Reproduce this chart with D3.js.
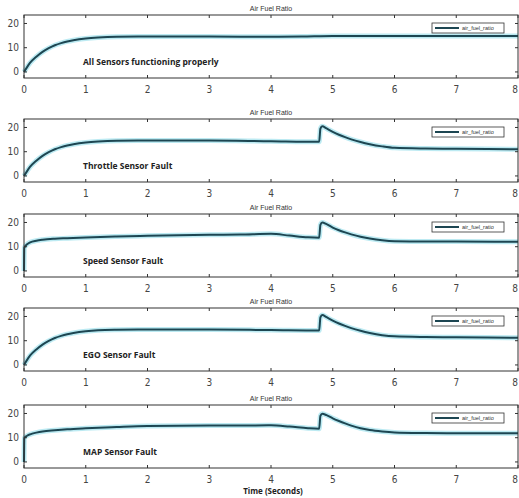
<!DOCTYPE html>
<html>
<head>
<meta charset="utf-8">
<script src="https://cdn.jsdelivr.net/npm/d3@7"></script>
<style>
  body { margin: 0; background: #fff; }
  svg { display: block; }
  .tick-label { font-family: "DejaVu Sans Condensed", "Liberation Sans Narrow", "Liberation Sans", sans-serif; font-size: 10px; fill: #444; }
  .title { font-family: "Liberation Sans", Arial, sans-serif; font-size: 7px; fill: #333; }
  .note { font-family: "Open Sans", "Liberation Sans", sans-serif; font-size: 8.5px; font-weight: 700; fill: #222; }
  .legend-text { font-family: "Liberation Sans", Arial, sans-serif; font-size: 5.5px; fill: #333; }
  .xlabel { font-family: "Open Sans", "Liberation Sans", sans-serif; font-size: 8px; font-weight: 700; fill: #222; }
</style>
</head>
<body>
<div id="chart"></div>
<script>
// Data
const xTicks = [0, 1, 2, 3, 4, 5, 6, 7, 8];
const yTicks = [0, 10, 20];
const panelNotes = ['All Sensors functioning properly', 'Throttle Sensor Fault', 'Speed Sensor Fault', 'EGO Sensor Fault', 'MAP Sensor Fault'];

const tNormal = [0, 0.05, 0.1, 0.2, 0.3, 0.4, 0.5, 0.6, 0.7, 0.8, 1.0, 1.2, 1.5, 2, 3, 4, 4.5, 5, 6, 7, 8];
const afrNormal = [0, 2, 3.8, 6.3, 8.3, 9.8, 11.0, 11.9, 12.6, 13.1, 13.8, 14.2, 14.5, 14.6, 14.6, 14.5, 14.6, 14.8, 14.8, 14.8, 14.8];

const tFault = [0, 0.05, 0.1, 0.2, 0.3, 0.4, 0.5, 0.6, 0.7, 0.8, 1.0, 1.2, 1.5, 2, 3, 4, 4.78, 4.8, 4.83, 4.9, 5.0, 5.1, 5.2, 5.3, 5.45, 5.6, 5.8, 6.0, 6.5, 7, 8];
const afrThrottle = [0, 2, 3.8, 6.3, 8.3, 9.8, 11.0, 11.9, 12.6, 13.1, 13.8, 14.2, 14.5, 14.6, 14.6, 14.3, 14.1, 19.5, 20.5, 19.6, 18.2, 17.0, 16.0, 15.1, 14.0, 13.1, 12.2, 11.6, 11.3, 11.2, 11.0];
const afrEgo = [0, 2.1, 3.9, 6.4, 8.4, 9.9, 11.1, 12.0, 12.7, 13.2, 13.9, 14.3, 14.5, 14.6, 14.6, 14.4, 14.2, 19.6, 20.6, 19.7, 18.3, 17.1, 16.1, 15.2, 14.1, 13.2, 12.3, 11.8, 11.5, 11.4, 11.2];

const tStep = [0, 0.005, 0.05, 0.1, 0.2, 0.3, 0.5, 0.7, 1, 1.5, 2, 3, 3.5, 4, 4.3, 4.6, 4.78, 4.8, 4.83, 4.9, 5, 5.1, 5.2, 5.3, 5.45, 5.6, 5.8, 6, 6.5, 7, 8];
const afrSpeed = [0, 9.5, 11.0, 11.8, 12.5, 12.9, 13.3, 13.5, 13.8, 14.2, 14.5, 14.9, 15.0, 15.3, 14.6, 13.9, 13.75, 19.0, 20.0, 19.3, 17.9, 16.8, 15.9, 15.1, 14.1, 13.4, 12.7, 12.3, 12.1, 12.1, 12.0];
const afrMap = [0, 9.8, 10.8, 11.4, 12.1, 12.6, 13.1, 13.5, 13.9, 14.4, 14.8, 15.0, 15.0, 15.1, 14.6, 13.9, 13.7, 19.0, 19.9, 19.3, 18.0, 16.9, 15.9, 15.0, 13.9, 13.2, 12.6, 12.2, 11.9, 11.8, 11.8];

const series = [
    { t: tNormal, v: afrNormal },
    { t: tFault, v: afrThrottle },
    { t: tStep, v: afrSpeed },
    { t: tFault, v: afrEgo },
    { t: tStep, v: afrMap }
];

// Layout
const config = {
    width: 519,
    height: 498,
    left: 24,
    right: 518,
    panelHeight: 63,
    panelTops: [15, 119, 214, 308, 405],
    yDomain: [-2.5, 23.5],
    lineColor: '#1d4652',
    glowColor: '#8fdcea'
};

const svg = d3.select('#chart')
    .append('svg')
    .attr('width', config.width)
    .attr('height', config.height);

const xScale = d3.scaleLinear()
    .domain([0, 8])
    .range([config.left, config.right]);

series.forEach((s, i) => {
    const top = config.panelTops[i];
    const bottom = top + config.panelHeight;
    const yScale = d3.scaleLinear()
        .domain(config.yDomain)
        .range([bottom, top]);

    const g = svg.append('g');

    // Title
    g.append('text')
        .attr('class', 'title')
        .attr('x', 271)
        .attr('y', top - 4)
        .attr('text-anchor', 'middle')
        .text('Air Fuel Ratio');

    // Data line with light glow underneath
    const pts = s.t.map((t, k) => [t, s.v[k]]);
    const line = d3.line()
        .x(d => xScale(d[0]))
        .y(d => yScale(d[1]))
        .curve(d3.curveMonotoneX);

    g.append('path')
        .datum(pts)
        .attr('fill', 'none')
        .attr('stroke', config.glowColor)
        .attr('stroke-opacity', 0.6)
        .attr('stroke-width', 5)
        .attr('d', line);

    g.append('path')
        .datum(pts)
        .attr('fill', 'none')
        .attr('stroke', config.lineColor)
        .attr('stroke-width', 2)
        .attr('d', line);

    // Axes: ticks inside, on all four sides
    const ax = g.append('g').attr('stroke', '#333').attr('stroke-width', 1);
    ax.append('rect')
        .attr('x', config.left)
        .attr('y', top)
        .attr('width', config.right - config.left)
        .attr('height', config.panelHeight)
        .attr('fill', 'none');

    xTicks.forEach(t => {
        const x = xScale(t);
        ax.append('line').attr('x1', x).attr('x2', x).attr('y1', bottom).attr('y2', bottom - 3);
        ax.append('line').attr('x1', x).attr('x2', x).attr('y1', top).attr('y2', top + 3);
    });
    yTicks.forEach(v => {
        const y = yScale(v);
        ax.append('line').attr('x1', config.left).attr('x2', config.left + 3).attr('y1', y).attr('y2', y);
        ax.append('line').attr('x1', config.right).attr('x2', config.right - 3).attr('y1', y).attr('y2', y);
    });

    // keep the last label inside the window
    g.selectAll(null)
        .data(xTicks)
        .enter()
        .append('text')
        .attr('class', 'tick-label')
        .attr('x', d => Math.min(xScale(d), config.width - 4))
        .attr('y', bottom + 15)
        .attr('text-anchor', 'middle')
        .text(d => d);

    g.selectAll(null)
        .data(yTicks)
        .enter()
        .append('text')
        .attr('class', 'tick-label')
        .attr('x', config.left - 5)
        .attr('y', d => yScale(d) + 3.5)
        .attr('text-anchor', 'end')
        .text(d => d);

    // Legend
    const lg = g.append('g').attr('transform', `translate(432,${top + 8})`);
    lg.append('rect')
        .attr('width', 72)
        .attr('height', 10)
        .attr('fill', '#fff')
        .attr('stroke', '#333')
        .attr('stroke-width', 0.8);
    lg.append('line')
        .attr('x1', 3).attr('x2', 27)
        .attr('y1', 5).attr('y2', 5)
        .attr('stroke', config.lineColor)
        .attr('stroke-width', 2);
    lg.append('text')
        .attr('class', 'legend-text')
        .attr('x', 30)
        .attr('y', 7)
        .text('air_fuel_ratio');

    // Panel annotation
    g.append('text')
        .attr('class', 'note')
        .attr('x', 83)
        .attr('y', yScale(2.8))
        .text(panelNotes[i]);
});

// Shared x-axis label
svg.append('text')
    .attr('class', 'xlabel')
    .attr('x', 273)
    .attr('y', 494)
    .attr('text-anchor', 'middle')
    .text('Time (Seconds)');
</script>
</body>
</html>
